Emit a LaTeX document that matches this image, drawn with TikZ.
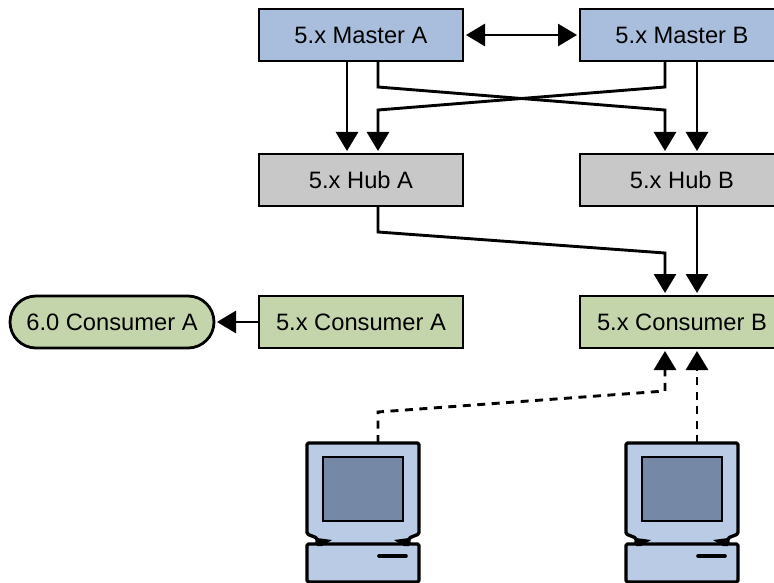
\documentclass[tikz,border=0pt]{standalone}
\usepackage{fontspec}
\setmainfont{Liberation Sans}
\usetikzlibrary{arrows.meta,calc}
\definecolor{bluebox}{HTML}{A9BEDC}
\definecolor{graybox}{HTML}{C8C8C8}
\definecolor{greenbox}{HTML}{C5D5AB}
\definecolor{pclight}{HTML}{BACBE5}
\definecolor{pcdark}{HTML}{7588A6}
\tikzset{
  x=1pt,y=-1pt,
  boxbase/.style={draw=black,line width=2.8pt,minimum width=204pt,minimum height=52pt,inner sep=0pt,outer sep=0pt,font=\fontsize{23.7}{28}\selectfont,anchor=center},
  master/.style={boxbase,fill=bluebox},
  hub/.style={boxbase,fill=graybox},
  consumer/.style={boxbase,fill=greenbox},
  newconsumer/.style={boxbase,fill=greenbox,rounded corners=26pt},
  link/.style={line width=2.9pt,line join=miter,-{Triangle[length=19pt,width=22pt]},shorten >=3pt},
  duplex/.style={line width=2.9pt,{Triangle[length=19pt,width=22pt]}-{Triangle[length=19pt,width=22pt]},shorten >=3pt,shorten <=3pt},
  dashlink/.style={link,dash pattern=on 8pt off 6.5pt},
  pcline/.style={draw=black,line width=3.4pt,line join=round},
  pc/.pic={
    \coordinate (-top) at (71,0);
    \filldraw[pcline,fill=pclight,rounded corners=1.5pt] (0,0) -- (112,0) -- (112,91) -- (102,95) -- (102,102) -- (10,102) -- (10,95) -- (0,91) -- cycle;
    \filldraw[fill=pcdark,draw=black,line width=2.6pt] (16,14) rectangle (96,78);
    \filldraw[pcline,fill=pclight,rounded corners=1.5pt] (0,101) rectangle (112,139);
    \fill[black] (10,95) -- (25,97) -- (15,103) -- (10,103) -- cycle;
    \fill[black] (102,95) -- (87,97) -- (97,103) -- (102,103) -- cycle;
    \draw[line width=3.6pt,line cap=round] (72,113) -- (99,113);
  }
}
\begin{document}
\begin{tikzpicture}
\clip (0,0) rectangle (774,583);
\fill[white] (0,0) rectangle (774,583);
\node[master] (ma) at (361,35) {5.x Master A};
\node[master] (mb) at (682,35) {5.x Master B};
\node[hub] (ha) at (361,180) {5.x Hub A};
\node[hub] (hb) at (682,180) {5.x Hub B};
\node[consumer] (ca) at (361,322) {5.x Consumer A};
\node[consumer] (cb) at (682,322) {5.x Consumer B};
\node[newconsumer] (na) at (112,322) {6.0 Consumer A};
\pic (pca) at (307,443) {pc};
\pic (pcb) at (626,443) {pc};

\draw[duplex] (ma.east) -- (mb.west);
\draw[link] ([xshift=-14pt]ma.south) -- ([xshift=-14pt]ha.north);
\draw[link] ([xshift=15pt]mb.south) -- ([xshift=15pt]hb.north);
\draw[link] ([xshift=17pt]ma.south) -- ++(0,26) -- ++(287,23) -- ([xshift=-17pt]hb.north);
\draw[link] ([xshift=-17pt]mb.south) -- ++(0,26) -- ++(-287,23) -- ([xshift=17pt]ha.north);
\draw[link] ([xshift=17pt]ha.south) -- ++(0,26) -- ++(287,21) -- ([xshift=-17pt]cb.north);
\draw[link] ([xshift=15pt]hb.south) -- ([xshift=15pt]cb.north);
\draw[link] (ca.west) -- (na.east);
\draw[dashlink] (pca-top) -- ++(0,-31) -- ++(287,-21) -- ([xshift=-17pt]cb.south);
\draw[dashlink] (pcb-top) -- ([xshift=15pt]cb.south);
\end{tikzpicture}
\end{document}
